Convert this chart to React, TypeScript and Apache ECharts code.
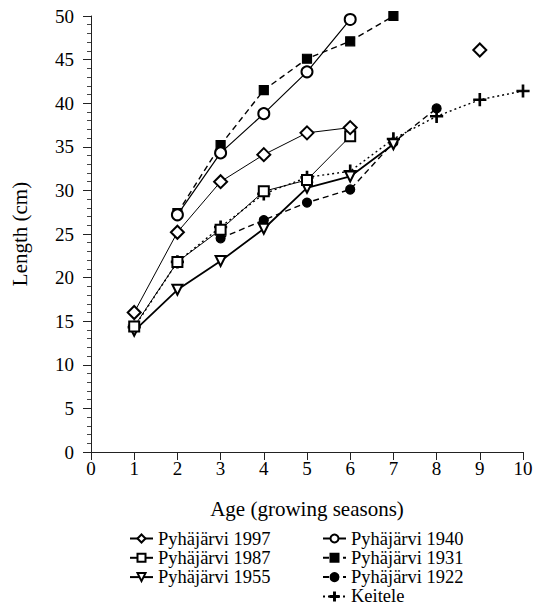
import React, { useEffect, useRef } from "react";
import * as echarts from "echarts";

const ages = [1, 2, 3, 4, 5, 6, 7, 8, 9, 10];
const p1997 = [16.0, 25.2, 31.0, 34.1, 36.6, 37.2, null, null, 46.1, null];
const p1987 = [14.4, 21.8, 25.5, 29.9, 31.2, 36.2, null, null, null, null];
const p1955 = [13.9, 18.6, 21.9, 25.6, 30.3, 31.6, 35.3, null, null, null];
const p1940 = [null, 27.2, 34.3, 38.8, 43.6, 49.6, null, null, null, null];
const p1931 = [null, 27.4, 35.2, 41.5, 45.1, 47.1, 50.0, null, null, null];
const p1922 = [null, null, 24.5, 26.6, 28.6, 30.1, 35.5, 39.4, null, null];
const keitele = [14.3, 21.8, 25.8, 29.6, 31.5, 32.2, 35.9, 38.5, 40.4, 41.4];

const legendLeft = ["Pyhäjärvi 1997", "Pyhäjärvi 1987", "Pyhäjärvi 1955"];
const legendRight = ["Pyhäjärvi 1940", "Pyhäjärvi 1931", "Pyhäjärvi 1922", "Keitele"];

const FONT = "Liberation Serif";
const PLUS = "path://M4.4,0h1.2v10h-1.2z M0,4.4h10v1.2h-10z";

function toData(vals: (number | null)[]) {
  return ages.map((a, i) => [a, vals[i] == null ? null : vals[i]]);
}

export default function App() {
  const ref = useRef<HTMLDivElement>(null);
  useEffect(() => {
    if (!ref.current) return;
    const chart = echarts.init(ref.current, undefined, { renderer: "svg" });
    const mk = (
      name: string,
      vals: (number | null)[],
      symbol: string,
      size: number,
      lineType: any,
      width: number,
      extra: any = {}
    ) => ({
      name,
      type: "line",
      data: toData(vals),
      symbol,
      symbolSize: size,
      connectNulls: false,
      clip: false,
      lineStyle: { color: "#000", width, type: lineType },
      itemStyle: { color: "#000", borderColor: "#000", borderWidth: 1.2 },
      emphasis: { disabled: true },
      ...extra,
    });
    const legendText = { fontFamily: FONT, fontSize: 18.5, color: "#000", lineHeight: 17, padding: [0, 0, 0, 0] };
    const legendCommon = {
      orient: "vertical",
      top: 529,
      padding: 0,
      height: 90,
      itemWidth: 23,
      itemHeight: 10,
      itemGap: 0.3,
      textStyle: legendText,
    };
    chart.setOption({
      animation: false,
      backgroundColor: "#fff",
      textStyle: { fontFamily: FONT },
      grid: { left: 91, right: 21, top: 16, bottom: 156 },
      xAxis: {
        type: "value",
        min: 0,
        max: 10,
        interval: 1,
        name: "Age (growing seasons)",
        nameLocation: "middle",
        nameGap: 46,
        nameTextStyle: { fontFamily: FONT, fontSize: 21, color: "#000" },
        axisLine: { lineStyle: { color: "#222", width: 1 } },
        axisTick: { show: true, length: 8, lineStyle: { color: "#222" } },
        axisLabel: { fontFamily: FONT, fontSize: 19, color: "#000", margin: 7 },
        splitLine: { show: false },
      },
      yAxis: {
        type: "value",
        min: 0,
        max: 50,
        interval: 5,
        name: "Length (cm)",
        nameLocation: "middle",
        nameGap: 61,
        nameRotate: 90,
        nameTextStyle: { fontFamily: FONT, fontSize: 21, color: "#000" },
        axisLine: { show: true, lineStyle: { color: "#222", width: 1 } },
        axisTick: { show: true, length: 8, lineStyle: { color: "#222" } },
        minorTick: { show: true, splitNumber: 5, length: 4, lineStyle: { color: "#444" } },
        axisLabel: { fontFamily: FONT, fontSize: 19, color: "#000", margin: 17 },
        splitLine: { show: false },
      },
      legend: [
        { ...legendCommon, data: legendLeft, left: 129 },
        { ...legendCommon, data: legendRight, left: 322 },
      ],
      series: [
        mk("Pyhäjärvi 1922", p1922, "circle", 9, [6, 4], 1.4),
        mk("Keitele", keitele, PLUS, 12, [2, 3], 1.4),
        mk("Pyhäjärvi 1931", p1931, "rect", 9, [6, 4], 1.4),
        mk("Pyhäjärvi 1955", p1955, "emptyTriangle", 10, "solid", 1.8, { symbolRotate: 180 }),
        mk("Pyhäjärvi 1987", p1987, "emptyRect", 10, "solid", 1),
        mk("Pyhäjärvi 1940", p1940, "emptyCircle", 11, "solid", 1.2),
        mk("Pyhäjärvi 1997", p1997, "emptyDiamond", 13, "solid", 1),
      ],
    });
    return () => chart.dispose();
  }, []);
  return <div ref={ref} style={{ width: 544, height: 608, marginLeft: -8, marginTop: -8 }} />;
}
